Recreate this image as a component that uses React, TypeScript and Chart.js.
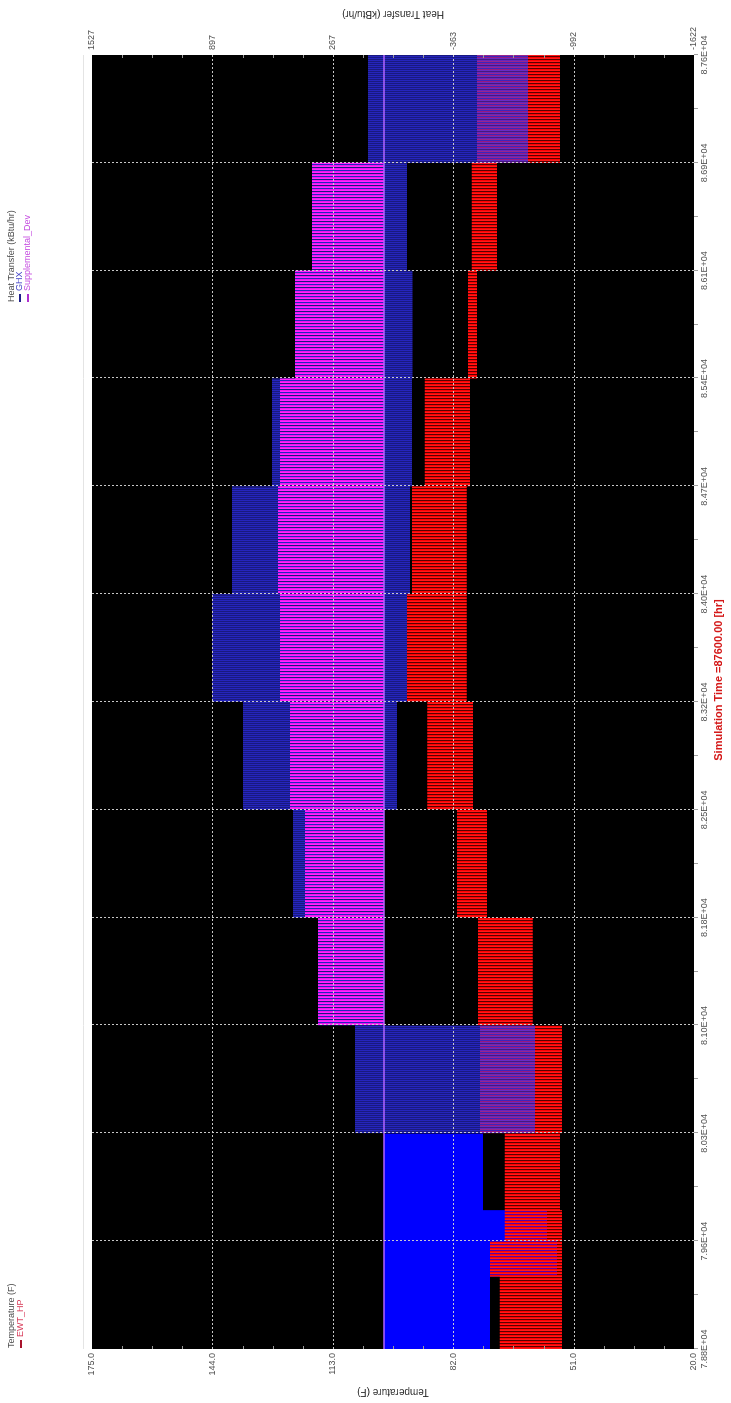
import React, { useEffect, useRef } from 'react';
import { Chart, registerables } from 'chart.js';

Chart.register(...registerables);

// ---- axis ticks ----
const timeTicks = [78840, 79570, 80300, 81030, 81760, 82490, 83220, 83950, 84680, 85410, 86140, 86870, 87600];
const timeTickLabels = ['7.88E+04', '7.96E+04', '8.03E+04', '8.10E+04', '8.18E+04', '8.25E+04', '8.32E+04', '8.40E+04', '8.47E+04', '8.54E+04', '8.61E+04', '8.69E+04', '8.76E+04'];
const tempTicks = [20, 51, 82, 113, 144, 175];
const tempTickLabels = ['20.0', '51.0', '82.0', '113.0', '144.0', '175.0'];
const heatTicks = [-1622, -992.2, -362.4, 267.4, 897.2, 1527];
const heatTickLabels = ['-1622', '-992', '-363', '267', '897', '1527'];

// ---- EWT_HP (F): daily swing envelope, value holds from each time to the next ----
const ewtTime = [78840, 79330, 79570, 79780, 80300, 81030, 81760, 82490, 83220, 83950, 84680, 85410, 86140, 86870, 87600];
const ewtHigh = [70.0, 72.5, 68.7, 68.7, 75.1, 75.6, 81.0, 88.7, 93.9, 92.6, 89.3, 78.2, 77.2, 75.9, 75.9];
const ewtLow = [54.0, 54.0, 54.0, 54.5, 54.0, 61.5, 73.3, 76.9, 78.5, 78.5, 77.7, 75.9, 70.7, 54.5, 54.5];

// ---- GHX (kBtu/hr): dense winter part and the rest ----
const ghxSolidTime = [78840, 79330, 79570, 79780, 80300];
const ghxSolidHigh = [0, 0, 0, 0, 0];
const ghxSolidLow = [-555, -905, -853, -518, -518];

const ghxTime = [80300, 81030, 81760, 82490, 83220, 83950, 84680, 85410, 86140, 86870, 87600];
const ghxHigh = [151, 345, 476, 737, 899, 795, 585, 465, 376, 83, 83];
const ghxLow = [-790, 0, 0, -68, -121, -136, -147, -150, -121, -754, -754];

// ---- Supplemental_Dev (kBtu/hr) ----
const suppTime = [78840, 81030, 81760, 82490, 83220, 83950, 84680, 85410, 86140, 86870, 87600];
const suppHigh = [0, 345, 413, 491, 544, 554, 544, 465, 376, 0, 0];
const suppZero = [0, 0, 0, 0, 0, 0, 0, 0, 0, 0, 0];

const leftAxisTitle = 'Temperature (F)';
const rightAxisTitle = 'Heat Transfer (kBtu/hr)';
const simLabel = 'Simulation Time =87600.00 [hr]';

const FONT = '"Liberation Sans", Arial, sans-serif';

// step function: each value holds until the next time
const stepPts = (xs: number[], ys: number[]) => {
  const out: { x: number; y: number }[] = [];
  for (let i = 0; i < xs.length - 1; i++) {
    out.push({ x: xs[i], y: ys[i] }, { x: xs[i + 1], y: ys[i] });
  }
  return out;
};

export default function App() {
  const ref = useRef<HTMLCanvasElement>(null);

  useEffect(() => {
    document.body.style.margin = '0';
    document.body.style.overflow = 'hidden';
    const canvas = ref.current as HTMLCanvasElement;
    const ctx0 = canvas.getContext('2d') as CanvasRenderingContext2D;

    const stripes = (cols: (string | null)[]) => {
      const c = document.createElement('canvas');
      c.width = cols.length;
      c.height = 1;
      const g = c.getContext('2d') as CanvasRenderingContext2D;
      cols.forEach((col, i) => {
        if (col) {
          g.fillStyle = col;
          g.fillRect(i, 0, 1, 1);
        }
      });
      return ctx0.createPattern(c, 'repeat') as CanvasPattern;
    };

    const ghxPattern = stripes(['rgba(50,50,255,0.74)', 'rgba(50,50,255,0.5)']);
    const ewtPattern = stripes(['#ff1a1a', '#ff0000', 'rgba(255,0,0,0.35)']);
    const suppPattern = stripes(['#ff26ff', '#f014f0', null]);

    const band = (label: string, xs: number[], hi: number[], lo: number[], axis: string, fillStyle: any, order: number) => [
      {
        label: label + ' (max)', data: stepPts(xs, hi), yAxisID: axis,
        borderWidth: 0, borderColor: 'rgba(0,0,0,0)', pointRadius: 0, fill: false, order,
      },
      {
        label, data: stepPts(xs, lo), yAxisID: axis,
        borderWidth: 0, borderColor: 'rgba(0,0,0,0)', backgroundColor: fillStyle, pointRadius: 0, fill: '-1', order,
      },
    ];

    const datasets: any[] = [
      ...band('GHX winter', ghxSolidTime, ghxSolidHigh, ghxSolidLow, 'y1', '#0000ff', 11),
      ...band('EWT_HP', ewtTime, ewtHigh, ewtLow, 'y', ewtPattern, 10),
      ...band('GHX', ghxTime, ghxHigh, ghxLow, 'y1', ghxPattern, 9),
      ...band('Supplemental_Dev', suppTime, suppHigh, suppZero, 'y1', suppPattern, 8),
      {
        label: 'Supplemental_Dev zero', data: stepPts(suppTime, suppZero), yAxisID: 'y1',
        borderWidth: 1.5, borderColor: '#b264ff', pointRadius: 0, fill: false, order: 1,
      },
    ];

    const framePlugin = {
      id: 'frame',
      beforeDraw(chart: any) {
        const { ctx, chartArea: a } = chart;
        ctx.save();
        ctx.fillStyle = '#000';
        ctx.fillRect(a.left, a.top, a.right - a.left, a.bottom - a.top);
        ctx.strokeStyle = '#e4e4e4';
        ctx.lineWidth = 1;
        ctx.beginPath();
        ctx.moveTo(a.left, a.top - 8.5);
        ctx.lineTo(a.right, a.top - 8.5);
        ctx.stroke();
        ctx.restore();
      },
      afterDatasetsDraw(chart: any) {
        const { ctx, chartArea: a, scales } = chart;
        const sx = scales.x;
        const sy = scales.y;
        const line = (x1: number, y1: number, x2: number, y2: number) => {
          ctx.beginPath();
          ctx.moveTo(x1, y1);
          ctx.lineTo(x2, y2);
          ctx.stroke();
        };
        ctx.save();
        ctx.strokeStyle = 'rgba(210,210,210,0.95)';
        ctx.lineWidth = 1;
        ctx.setLineDash([2, 2]);
        tempTicks.slice(1, -1).forEach((v) => {
          const py = Math.round(sy.getPixelForValue(v)) + 0.5;
          line(a.left, py, a.right, py);
        });
        timeTicks.slice(1, -1).forEach((v) => {
          const px = Math.round(sx.getPixelForValue(v)) + 0.5;
          line(px, a.top, px, a.bottom);
        });
        ctx.setLineDash([]);
        // minor ticks on the temperature / heat sides (inward)
        ctx.strokeStyle = '#9a9a9a';
        for (let i = 0; i < tempTicks.length - 1; i++) {
          const step = (tempTicks[i + 1] - tempTicks[i]) / 4;
          for (let q = 1; q < 4; q++) {
            const py = Math.round(sy.getPixelForValue(tempTicks[i] + q * step)) + 0.5;
            line(a.left, py, a.left + 3, py);
            line(a.right - 3, py, a.right, py);
          }
        }
        // time ticks (outward), major and half
        ctx.strokeStyle = '#a0a0a0';
        for (let i = 0; i < timeTicks.length; i++) {
          const px = Math.round(sx.getPixelForValue(timeTicks[i])) + 0.5;
          line(px, a.bottom, px, a.bottom + 4);
          if (i < timeTicks.length - 1) {
            const pm = Math.round(sx.getPixelForValue((timeTicks[i] + timeTicks[i + 1]) / 2)) + 0.5;
            line(pm, a.bottom, pm, a.bottom + 4);
          }
        }
        ctx.restore();
      },
      afterDraw(chart: any) {
        const { ctx, chartArea: a } = chart;
        const mid = (a.top + a.bottom) / 2;
        ctx.save();
        ctx.textBaseline = 'middle';
        // axis titles
        ctx.fillStyle = '#2a2a2a';
        ctx.textAlign = 'center';
        ctx.font = '10px ' + FONT;
        ctx.save();
        ctx.translate(11, mid);
        ctx.rotate(-Math.PI / 2);
        ctx.fillText(leftAxisTitle, 0, 0);
        ctx.restore();
        ctx.save();
        ctx.translate(1389, mid);
        ctx.rotate(-Math.PI / 2);
        ctx.fillText(rightAxisTitle, 0, 0);
        ctx.restore();
        // simulation time
        ctx.font = 'bold 11px ' + FONT;
        ctx.fillStyle = '#d41818';
        ctx.fillText(simLabel, 723, 719);
        // legends
        ctx.textAlign = 'left';
        ctx.font = '9px ' + FONT;
        ctx.fillStyle = '#4a4a4a';
        ctx.fillText(leftAxisTitle, 55, 12);
        ctx.fillStyle = '#a8142c';
        ctx.fillRect(55, 20, 8, 2);
        ctx.fillStyle = '#d83a58';
        ctx.fillText('EWT_HP', 66, 21);

        const lx = 1101;
        ctx.fillStyle = '#4a4a4a';
        ctx.fillText(rightAxisTitle, lx, 12);
        ctx.fillStyle = '#20208c';
        ctx.fillRect(lx, 19, 8, 2);
        ctx.fillStyle = '#4646c8';
        ctx.fillText('GHX', lx + 11, 20);
        ctx.fillStyle = '#b030d0';
        ctx.fillRect(lx, 27, 8, 2);
        ctx.fillStyle = '#c44ae0';
        ctx.fillText('Supplemental_Dev', lx + 11, 28);
        ctx.restore();
      },
    };

    const tickFont = { family: FONT, size: 9 };

    const chart = new Chart(canvas, {
      type: 'line',
      data: { datasets },
      options: {
        animation: false,
        responsive: false,
        devicePixelRatio: 1,
        layout: { padding: { top: 92, left: 0, right: 0, bottom: 0 } },
        plugins: { legend: { display: false }, tooltip: { enabled: false }, title: { display: false } },
        elements: { point: { radius: 0 }, line: { tension: 0 } },
        scales: {
          x: {
            type: 'linear',
            position: 'bottom',
            min: 78840,
            max: 87600,
            afterBuildTicks: (s: any) => { s.ticks = timeTicks.map((v) => ({ value: v })); },
            afterFit: (s: any) => { s.height = 37; },
            ticks: {
              autoSkip: false, maxRotation: 0, minRotation: 0, padding: 5, color: '#505050', font: tickFont,
              callback: (_v: any, i: number) => timeTickLabels[i],
            },
            grid: { display: false, drawTicks: false },
            border: { display: false },
          },
          y: {
            type: 'linear',
            position: 'left',
            min: 20,
            max: 175,
            afterBuildTicks: (s: any) => { s.ticks = tempTicks.map((v) => ({ value: v })); },
            afterFit: (s: any) => { s.width = 54; },
            ticks: { padding: 4, color: '#505050', font: tickFont, callback: (_v: any, i: number) => tempTickLabels[i] },
            grid: { display: false, drawTicks: false },
            border: { display: false },
          },
          y1: {
            type: 'linear',
            position: 'right',
            min: -1622,
            max: 1527,
            afterBuildTicks: (s: any) => { s.ticks = heatTicks.map((v) => ({ value: v })); },
            afterFit: (s: any) => { s.width = 55; },
            ticks: { padding: 5, color: '#505050', font: tickFont, callback: (_v: any, i: number) => heatTickLabels[i] },
            grid: { display: false, drawTicks: false },
            border: { display: false },
          },
        },
      } as any,
      plugins: [framePlugin],
    });

    return () => chart.destroy();
  }, []);

  return (
    <div
      style={{
        position: 'absolute',
        left: 0,
        top: 0,
        width: 1403,
        height: 731,
        transformOrigin: '0 0',
        transform: 'translate(0px, 1403px) rotate(-90deg)',
        background: '#fff',
      }}
    >
      <canvas ref={ref} width={1403} height={731} style={{ display: 'block', width: 1403, height: 731 }} />
    </div>
  );
}
